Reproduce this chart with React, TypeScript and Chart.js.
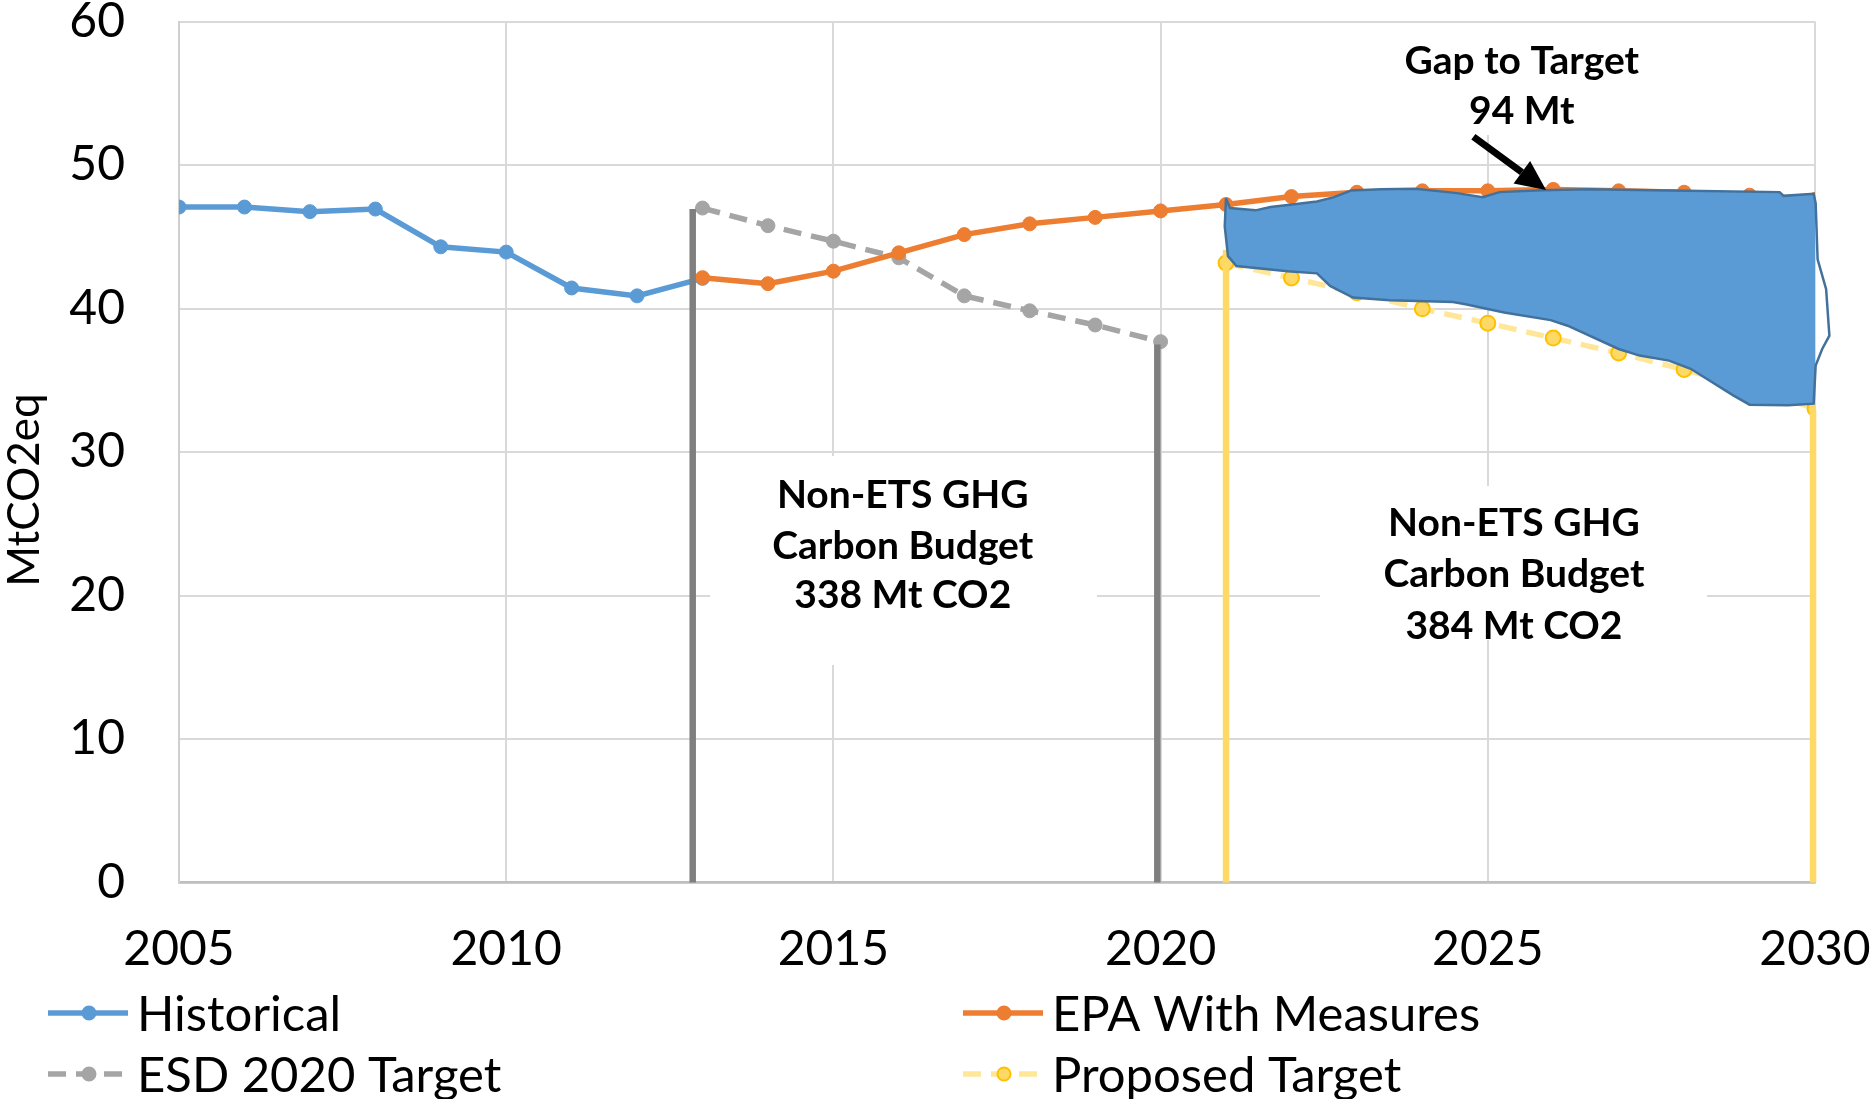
import React, { useEffect, useRef } from 'react';
import { Chart, registerables } from 'chart.js';

Chart.register(...registerables);

// ---------------- data ----------------
const xTickValues = [2005, 2010, 2015, 2020, 2025, 2030];
const yTickValues = [0, 10, 20, 30, 40, 50, 60];

const historicalYears = [2005, 2006, 2007, 2008, 2009, 2010, 2011, 2012, 2013];
const historicalValues = [47.07, 47.07, 46.75, 46.93, 44.3, 43.93, 41.43, 40.88, 42.1];

const epaYears = [2013, 2014, 2015, 2016, 2017, 2018, 2019, 2020, 2021, 2022, 2023, 2024, 2025, 2026, 2027, 2028, 2029, 2030];
const epaValues = [42.15, 41.73, 42.6, 43.88, 45.15, 45.9, 46.35, 46.8, 47.25, 47.8, 48.1, 48.2, 48.2, 48.3, 48.2, 48.1, 47.9, 47.6];

const esdYears = [2013, 2014, 2015, 2016, 2017, 2018, 2019, 2020];
const esdValues = [47.0, 45.77, 44.69, 43.53, 40.88, 39.84, 38.85, 37.69];

const proposedYears = [2021, 2022, 2023, 2024, 2025, 2026, 2027, 2028, 2029, 2030];
const proposedValues = [43.17, 42.13, 41.1, 39.98, 38.98, 37.94, 36.9, 35.75, 34.5, 33.03];

// vertical budget-period markers (x position in years, top value in Mt)
const esdBoundaryX = [2012.85, 2019.95];
const esdBoundaryTop = [46.93, 37.5];
const proposedBoundaryX = [2021.0, 2029.97];
const proposedBoundaryTop = [44.1, 33.0];

// hand-drawn "gap to target" shape outline (year, Mt)
const gapOutlineX = [
  2021.0, 2021.06, 2021.45, 2021.68, 2022.04, 2022.39, 2022.65, 2022.91, 2023.37, 2023.89,
  2024.53, 2024.92, 2025.18, 2025.83, 2026.54, 2027.77, 2029.46, 2029.52, 2029.98, 2030.01,
  2030.04, 2030.17, 2030.22, 2030.11, 2030.01, 2029.98, 2029.59, 2029.0, 2028.75, 2028.1,
  2027.77, 2027.32, 2027.0, 2026.22, 2025.96, 2025.25, 2024.66, 2024.47, 2023.5, 2022.94,
  2022.59, 2022.39, 2021.94, 2021.16, 2021.03, 2020.98, 2021.0,
];
const gapOutlineY = [
  47.69, 47.0, 46.84, 47.07, 47.27, 47.46, 47.76, 48.22, 48.31, 48.34,
  48.04, 47.76, 48.11, 48.24, 48.31, 48.22, 48.11, 47.85, 47.99, 47.34,
  43.42, 41.34, 38.11, 37.18, 36.03, 33.37, 33.26, 33.3, 33.95, 35.8,
  36.37, 36.72, 37.18, 38.8, 39.19, 39.72, 40.3, 40.46, 40.58, 40.76,
  41.57, 42.45, 42.59, 42.96, 43.65, 45.73, 47.69,
];

const seriesNames = ['Historical', 'EPA With Measures', 'ESD 2020 Target', 'Proposed Target'];
const budgetLabel1 = ['Non-ETS GHG', 'Carbon Budget', '338 Mt CO2'];
const budgetLabel2 = ['Non-ETS GHG', 'Carbon Budget', '384 Mt CO2'];
const gapLabel = ['Gap to Target', '94 Mt'];
const yAxisTitle = 'MtCO2eq';

// ---------------- styles ----------------
const FONT = "Lato, 'Open Sans', sans-serif";
const BLUE = '#5B9BD5';
const ORANGE = '#ED7D31';
const GREY = '#A5A5A5';
const DARK_GREY = '#7F7F7F';
const YELLOW_LINE = '#FFE699';
const YELLOW_MARK = '#FFC000';
const YELLOW_FILL = '#FFD966';
const YELLOW_BAR = '#FFD966';
const GRID = '#D9D9D9';

const zip = (xs: number[], ys: number[]) => xs.map((x, i) => ({ x, y: ys[i] }));

const verticalLine = (x: number, top: number, color: string) => ({
  data: [{ x, y: 0 }, { x, y: top }],
  borderColor: color,
  borderWidth: 6.5,
  pointRadius: 0,
  borderCapStyle: 'butt',
  order: 1,
  clip: false,
});

const annotationPlugin = {
  id: 'annotations',
  beforeDatasetsDraw(chart: any) {
    const { ctx } = chart;
    ctx.save();
    ctx.fillStyle = '#FFFFFF';
    // white text boxes hiding gridlines
    ctx.fillRect(710, 456, 387, 209);
    ctx.fillRect(1320, 486, 387, 154);
    ctx.fillRect(1382, 23, 282, 112);
    ctx.restore();
  },
  afterDatasetsDraw(chart: any) {
    const { ctx } = chart;
    const xs = chart.scales.x;
    const ys = chart.scales.y;
    ctx.save();
    ctx.fillStyle = '#000';
    ctx.textAlign = 'center';
    ctx.textBaseline = 'middle';
    ctx.font = `bold 39px ${FONT}`;
    const drawLines = (lines: string[], xv: number, yv: number[]) => {
      lines.forEach((t, i) => ctx.fillText(t, xs.getPixelForValue(xv), ys.getPixelForValue(yv[i])));
    };
    drawLines(budgetLabel1, 2016.06, [27.0, 23.4, 20.0]);
    drawLines(budgetLabel2, 2025.4, [25.05, 21.45, 17.85]);
    ctx.font = `bold 39px ${FONT}`;
    drawLines(gapLabel, 2025.52, [57.25, 53.75]);

    // arrow
    const x1 = xs.getPixelForValue(2024.78), y1 = ys.getPixelForValue(51.97);
    const x2 = xs.getPixelForValue(2025.89), y2 = ys.getPixelForValue(48.26);
    const ang = Math.atan2(y2 - y1, x2 - x1);
    const headLen = 30, headW = 14;
    const bx = x2 - headLen * Math.cos(ang), by = y2 - headLen * Math.sin(ang);
    ctx.strokeStyle = '#000';
    ctx.lineWidth = 7;
    ctx.beginPath();
    ctx.moveTo(x1, y1);
    ctx.lineTo(bx, by);
    ctx.stroke();
    ctx.beginPath();
    ctx.moveTo(x2, y2);
    ctx.lineTo(bx + headW * Math.sin(ang), by - headW * Math.cos(ang));
    ctx.lineTo(bx - headW * Math.sin(ang), by + headW * Math.cos(ang));
    ctx.closePath();
    ctx.fill();

    // y axis title
    ctx.save();
    ctx.translate(25, 490);
    ctx.rotate(-Math.PI / 2);
    ctx.font = `44px ${FONT}`;
    ctx.fillText(yAxisTitle, 0, 0);
    ctx.restore();

    // legend
    const items = [
      { name: seriesNames[0], x0: 48, y: 1013, color: BLUE, dash: [], mFill: BLUE, mStroke: BLUE },
      { name: seriesNames[1], x0: 963, y: 1013, color: ORANGE, dash: [], mFill: ORANGE, mStroke: ORANGE },
      { name: seriesNames[2], x0: 48, y: 1074, color: GREY, dash: [18, 10], mFill: GREY, mStroke: GREY },
      { name: seriesNames[3], x0: 963, y: 1074, color: YELLOW_LINE, dash: [18, 10], mFill: YELLOW_FILL, mStroke: YELLOW_MARK },
    ];
    ctx.font = `49px ${FONT}`;
    ctx.textAlign = 'left';
    items.forEach((it) => {
      ctx.save();
      ctx.strokeStyle = it.color;
      ctx.lineWidth = 5.5;
      ctx.setLineDash(it.dash);
      ctx.beginPath();
      ctx.moveTo(it.x0, it.y);
      ctx.lineTo(it.x0 + 80, it.y);
      ctx.stroke();
      ctx.setLineDash([]);
      ctx.beginPath();
      ctx.arc(it.x0 + 41, it.y, 6.5, 0, Math.PI * 2);
      ctx.fillStyle = it.mFill;
      ctx.fill();
      ctx.lineWidth = 2;
      ctx.strokeStyle = it.mStroke;
      ctx.stroke();
      ctx.restore();
      ctx.fillStyle = '#000';
      ctx.fillText(it.name, it.x0 + 89, it.y + 2);
    });
    ctx.restore();
  },
};

export default function App() {
  const canvasRef = useRef<HTMLCanvasElement | null>(null);

  useEffect(() => {
    const canvas = canvasRef.current;
    if (!canvas) return;
    const lineCommon = { borderWidth: 5.5, pointRadius: 7, pointBorderWidth: 1, tension: 0, fill: false };
    const chart = new Chart(canvas, {
      type: 'line',
      data: {
        datasets: [
          {
            label: 'Gap',
            data: zip(gapOutlineX, gapOutlineY),
            borderColor: '#41719C',
            backgroundColor: BLUE,
            borderWidth: 2.5,
            pointRadius: 0,
            fill: 'shape',
            order: 0,
            clip: false,
            tension: 0,
          } as any,
          verticalLine(esdBoundaryX[0], esdBoundaryTop[0], DARK_GREY) as any,
          verticalLine(esdBoundaryX[1], esdBoundaryTop[1], DARK_GREY) as any,
          verticalLine(proposedBoundaryX[0], proposedBoundaryTop[0], YELLOW_BAR) as any,
          verticalLine(proposedBoundaryX[1], proposedBoundaryTop[1], YELLOW_BAR) as any,
          {
            label: seriesNames[0],
            data: zip(historicalYears, historicalValues),
            borderColor: BLUE,
            backgroundColor: BLUE,
            pointBackgroundColor: BLUE,
            pointBorderColor: BLUE,
            order: 3,
            ...lineCommon,
          } as any,
          {
            label: seriesNames[1],
            data: zip(epaYears, epaValues),
            borderColor: ORANGE,
            backgroundColor: ORANGE,
            pointBackgroundColor: ORANGE,
            pointBorderColor: ORANGE,
            order: 2,
            ...lineCommon,
          } as any,
          {
            label: seriesNames[2],
            data: zip(esdYears, esdValues),
            borderColor: GREY,
            backgroundColor: GREY,
            pointBackgroundColor: GREY,
            pointBorderColor: GREY,
            borderDash: [18, 10],
            order: 4,
            ...lineCommon,
          } as any,
          {
            label: seriesNames[3],
            data: zip(proposedYears, proposedValues),
            borderColor: YELLOW_LINE,
            backgroundColor: YELLOW_FILL,
            pointBackgroundColor: YELLOW_FILL,
            pointBorderColor: YELLOW_MARK,
            borderDash: [18, 10],
            order: 5,
            ...lineCommon,
            pointRadius: 7.5,
            pointBorderWidth: 2,
          } as any,
        ],
      },
      options: {
        responsive: false,
        animation: false,
        devicePixelRatio: 1,
        events: [],
        layout: { padding: { top: 21.5, right: 55, left: 0, bottom: 0 } },
        plugins: {
          legend: { display: false },
          tooltip: { enabled: false },
        },
        scales: {
          x: {
            type: 'linear',
            min: 2005,
            max: 2030,
            afterBuildTicks: (s: any) => {
              s.ticks = xTickValues.map((v) => ({ value: v }));
            },
            afterFit: (s: any) => {
              s.height = 216.5;
              s.paddingLeft = 0;
              s.paddingRight = 0;
            },
            ticks: {
              color: '#000',
              font: { family: FONT, size: 48, lineHeight: 0.9 },
              padding: 45,
              maxRotation: 0,
              autoSkip: false,
              callback: (v: any) => String(v),
            },
            grid: { color: GRID, lineWidth: 2, drawTicks: false },
            border: { color: '#BFBFBF', width: 2.5 },
          },
          y: {
            type: 'linear',
            min: 0,
            max: 60,
            afterBuildTicks: (s: any) => {
              s.ticks = yTickValues.map((v) => ({ value: v }));
            },
            afterFit: (s: any) => {
              s.width = 179;
              s.paddingTop = 0;
              s.paddingBottom = 0;
            },
            ticks: {
              color: '#000',
              font: { family: FONT, size: 48, lineHeight: 0.9 },
              padding: 54,
              callback: (v: any) => String(v),
            },
            grid: { color: GRID, lineWidth: 2, drawTicks: false },
            border: { color: '#CFCFCF', width: 2 },
          },
        },
      } as any,
      plugins: [annotationPlugin],
    });
    return () => chart.destroy();
  }, []);

  return (
    <div style={{ position: 'fixed', left: 0, top: 0, width: 1870, height: 1099, background: '#fff' }}>
      <canvas ref={canvasRef} width={1870} height={1099} style={{ display: 'block', width: 1870, height: 1099 }} />
    </div>
  );
}
